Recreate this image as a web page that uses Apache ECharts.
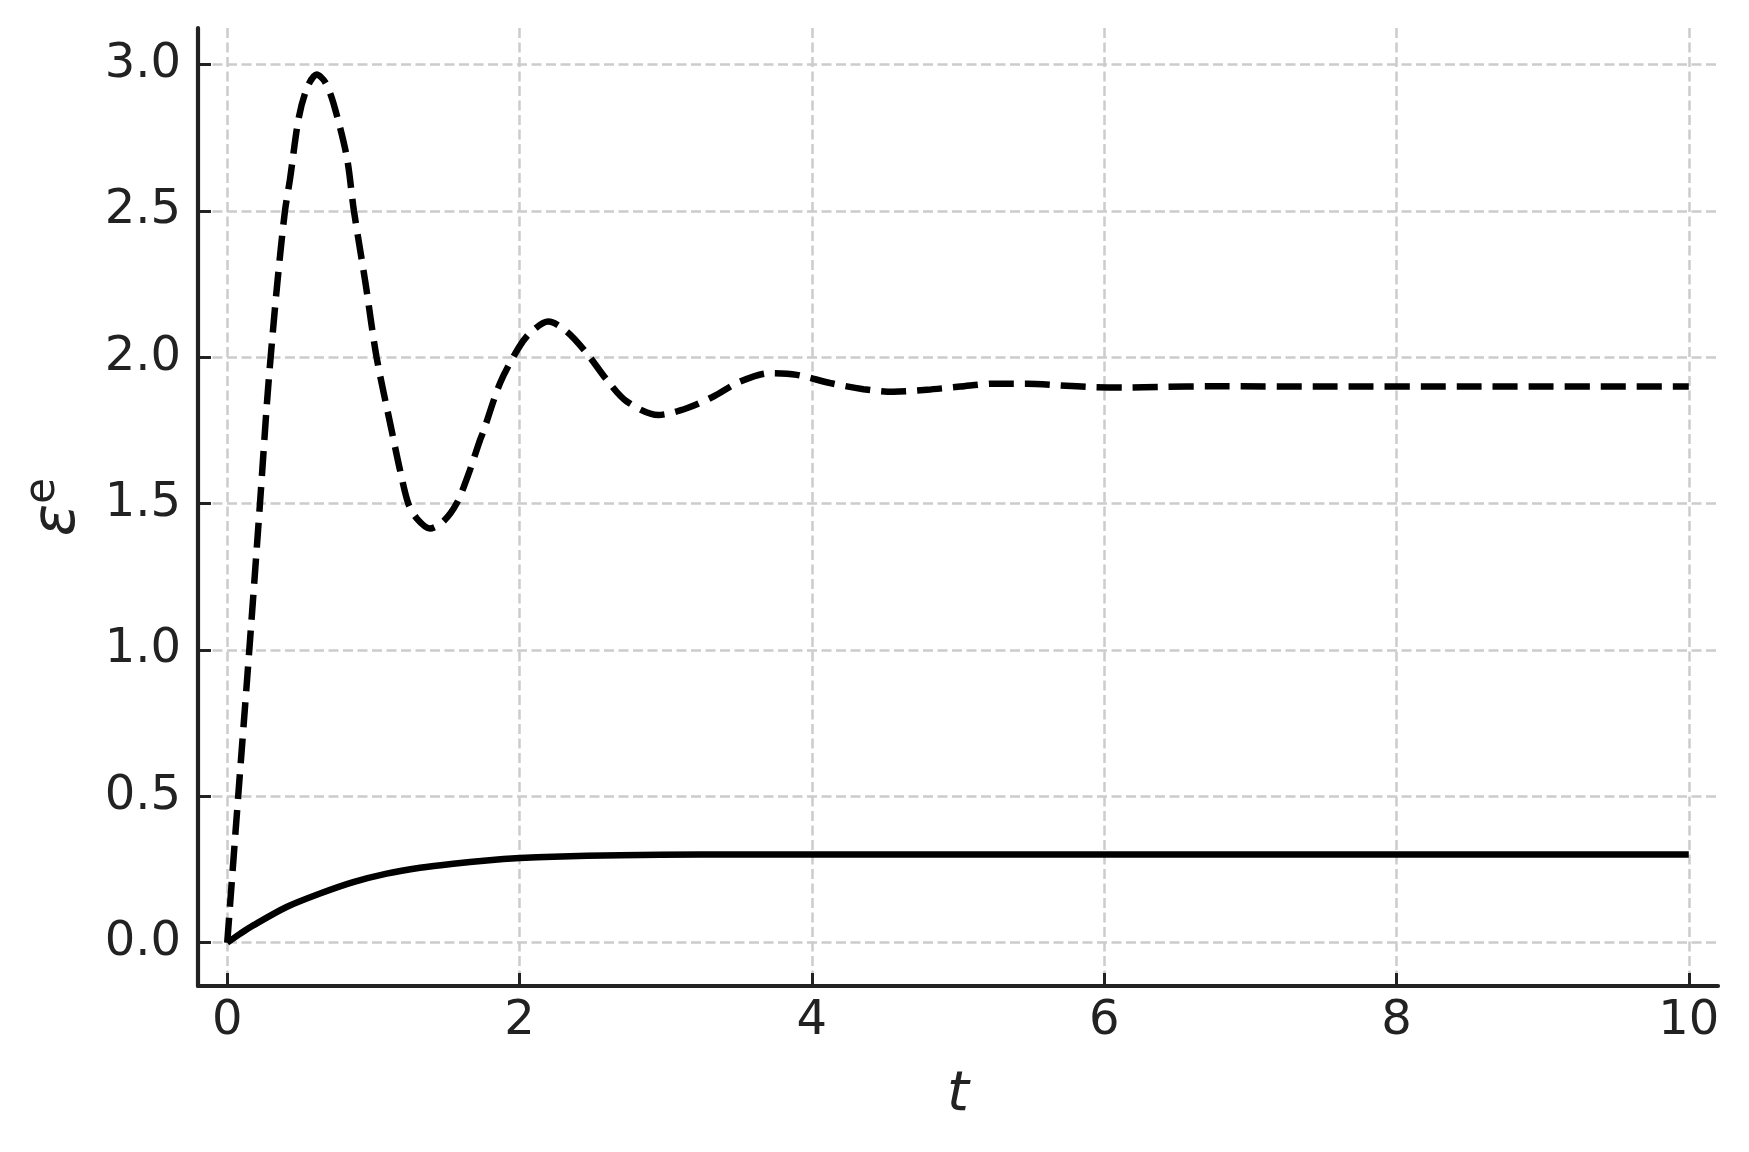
<!DOCTYPE html>
<html>
<head>
<meta charset="utf-8">
<script src="https://cdn.jsdelivr.net/npm/echarts@6/dist/echarts.min.js"></script>
<style>
html,body{margin:0;padding:0;background:#ffffff;}
#chart{width:1749px;height:1152px;}
</style>
</head>
<body>
<div id="chart"></div>
<script>
// ---- data ----
const xTicks = [0, 2, 4, 6, 8, 10];
const yTicks = [0, 0.5, 1.0, 1.5, 2.0, 2.5, 3.0];

const tDashed = [0, 0.075, 0.151, 0.224, 0.27, 0.297, 0.342, 0.395, 0.429, 0.49, 0.55, 0.612, 0.67, 0.726, 0.817, 0.867, 0.947, 1.022, 1.125, 1.182, 1.239, 1.296, 1.387, 1.48, 1.57, 1.65, 1.73, 1.752, 1.867, 1.992, 2.072, 2.197, 2.323, 2.46, 2.597, 2.734, 2.95, 3.144, 3.327, 3.509, 3.715, 3.897, 4.125, 4.353, 4.558, 4.787, 5.015, 5.243, 5.472, 5.7, 5.927, 6.156, 6.384, 6.749, 7.5, 8.5, 10];
const vDashed = [0, 0.5, 1.0, 1.5, 1.832, 2.0, 2.25, 2.5, 2.607, 2.82, 2.925, 2.966, 2.94, 2.869, 2.687, 2.5, 2.25, 2.0, 1.75, 1.615, 1.5, 1.45, 1.415, 1.44, 1.501, 1.6, 1.718, 1.746, 1.912, 2.031, 2.083, 2.122, 2.088, 2.014, 1.923, 1.849, 1.803, 1.826, 1.866, 1.917, 1.946, 1.94, 1.912, 1.891, 1.882, 1.889, 1.9, 1.91, 1.91, 1.904, 1.898, 1.897, 1.899, 1.901, 1.9, 1.9, 1.9];

const tSolid = [0, 0.09, 0.178, 0.406, 0.635, 0.862, 1.091, 1.319, 1.547, 1.775, 2.003, 2.231, 2.688, 3.235, 4, 6, 8, 10];
const vSolid = [0, 0.031, 0.059, 0.122, 0.168, 0.207, 0.236, 0.256, 0.27, 0.281, 0.289, 0.294, 0.299, 0.301, 0.301, 0.301, 0.301, 0.301];

const xName = 't';
const yName = '{a|ε}{b|e}';

// ---- chart ----
const zip = (t, v) => t.map((x, i) => [x, v[i]]);
const FONT = 'DejaVu Sans';
const INK = '#222222';

const chart = echarts.init(document.getElementById('chart'), null, {renderer: 'canvas'});
chart.setOption({
  animation: false,
  backgroundColor: '#ffffff',
  grid: {left: 198, right: 31, top: 28, bottom: 166, containLabel: false, outerBoundsMode: 'none'},
  xAxis: {
    type: 'value',
    min: -0.2,
    max: 10.2,
    name: xName,
    nameLocation: 'middle',
    nameGap: 81,
    nameTextStyle: {fontFamily: FONT, fontSize: 56, fontStyle: 'italic', color: INK},
    axisLine: {show: true, onZero: false, lineStyle: {color: INK, width: 4.2}},
    axisTick: {show: true, inside: true, length: 13, customValues: xTicks, lineStyle: {color: INK, width: 3}},
    axisLabel: {show: true, customValues: xTicks, margin: 12, fontFamily: FONT, fontSize: 48, color: INK,
      formatter: v => String(v)},
    splitLine: {show: true, lineStyle: {color: '#cccccc', width: 2.5, type: [10, 4.5]}}
  },
  yAxis: {
    type: 'value',
    min: -0.148,
    max: 3.125,
    name: yName,
    nameLocation: 'middle',
    nameRotate: 90,
    nameGap: 110,
    nameTextStyle: {
      color: INK,
      rich: {
        a: {fontFamily: FONT, fontSize: 60, fontStyle: 'italic', color: INK, lineHeight: 66, verticalAlign: 'bottom'},
        b: {fontFamily: FONT, fontSize: 42, color: INK, lineHeight: 48, verticalAlign: 'top'}
      }
    },
    axisLine: {show: true, onZero: false, lineStyle: {color: INK, width: 4.2}},
    axisTick: {show: true, inside: true, length: 13, customValues: yTicks, lineStyle: {color: INK, width: 3}},
    axisLabel: {show: true, customValues: yTicks, margin: 17, fontFamily: FONT, fontSize: 48, color: INK,
      formatter: v => v.toFixed(1)},
    splitLine: {show: true, lineStyle: {color: '#cccccc', width: 2.5, type: [10, 4.5]}}
  },
  series: [
    {
      type: 'line',
      data: zip(tSolid, vSolid),
      showSymbol: false,
      smooth: 0.3,
      lineStyle: {color: '#000000', width: 6.5, type: 'solid'},
      z: 3
    },
    {
      type: 'line',
      data: zip(tDashed, vDashed),
      showSymbol: false,
      smooth: 0.3,
      lineStyle: {color: '#000000', width: 6.5, type: [25, 11], cap: 'butt'},
      z: 4
    }
  ]
});
</script>
</body>
</html>
